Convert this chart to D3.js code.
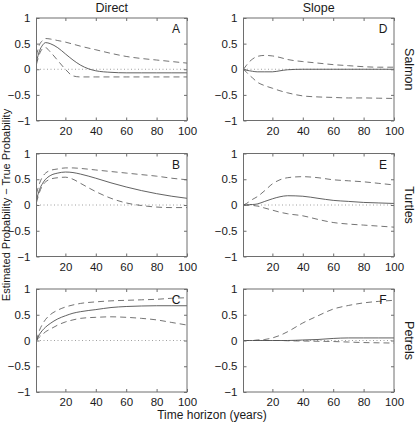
<!DOCTYPE html>
<html><head><meta charset="utf-8">
<script src="https://cdn.jsdelivr.net/npm/d3@7"></script>
<style>
html,body{margin:0;padding:0;background:#fff;}
svg{display:block;font-family:"Liberation Sans",Arial,Helvetica,sans-serif;}
</style></head>
<body>
<svg id="chart" width="419" height="425"></svg>
<script>
// ---- data ----
const horizon = [1,3,5,7,10,15,20,25,30,40,50,60,70,80,90,100];
const xTicks = [20,40,60,80,100];
const yTicks = [-1,-0.5,0,0.5,1];
const yTickLabels = ["\u22121","\u22120.5","0","0.5","1"];
const columnTitles = ["Direct","Slope"];
const rowLabels = ["Salmon","Turtles","Petrels"];
const panelLetters = ["A","D","B","E","C","F"];

// Salmon - Direct (A)
const A_mean  = [0.15,0.36,0.47,0.52,0.5,0.42,0.3,0.18,0.08,-0.03,-0.06,-0.07,-0.07,-0.07,-0.07,-0.07];
const A_upper = [0.27,0.48,0.56,0.6,0.59,0.56,0.53,0.49,0.45,0.38,0.31,0.25,0.21,0.18,0.15,0.12];
const A_lower = [0.1,0.3,0.4,0.42,0.34,0.17,0.0,-0.13,-0.15,-0.15,-0.15,-0.15,-0.15,-0.15,-0.15,-0.15];
// Salmon - Slope (D)
const D_mean  = [0,-0.02,-0.03,-0.04,-0.05,-0.05,-0.05,-0.03,-0.01,0,0,0,0,0,0,0];
const D_upper = [0,0.08,0.15,0.2,0.25,0.27,0.26,0.23,0.19,0.15,0.12,0.09,0.07,0.05,0.04,0.04];
const D_lower = [0,-0.06,-0.12,-0.17,-0.25,-0.32,-0.37,-0.42,-0.46,-0.52,-0.54,-0.55,-0.56,-0.56,-0.565,-0.57];
// Turtles - Direct (B)
const B_mean  = [0.1,0.3,0.42,0.5,0.57,0.62,0.64,0.63,0.6,0.52,0.43,0.35,0.28,0.22,0.17,0.13];
const B_upper = [0.22,0.42,0.55,0.62,0.67,0.7,0.72,0.72,0.71,0.68,0.65,0.62,0.59,0.56,0.52,0.49];
const B_lower = [0.05,0.25,0.38,0.45,0.5,0.53,0.54,0.5,0.42,0.26,0.13,0.04,-0.01,-0.04,-0.05,-0.05];
// Turtles - Slope (E)
const E_mean  = [0,0,0.01,0.01,0.02,0.07,0.12,0.16,0.18,0.17,0.13,0.09,0.07,0.05,0.04,0.03];
const E_upper = [0,0.03,0.07,0.11,0.16,0.28,0.41,0.49,0.53,0.55,0.53,0.49,0.47,0.45,0.42,0.39];
const E_lower = [0,0,-0.01,-0.01,-0.02,-0.06,-0.1,-0.14,-0.17,-0.21,-0.28,-0.34,-0.37,-0.39,-0.41,-0.43];
// Petrels - Direct (C)
const C_mean  = [0,0.12,0.2,0.26,0.33,0.42,0.48,0.53,0.56,0.6,0.64,0.66,0.67,0.675,0.675,0.675];
const C_upper = [0,0.2,0.32,0.41,0.5,0.59,0.65,0.69,0.72,0.75,0.77,0.78,0.79,0.8,0.82,0.83];
const C_lower = [0,0.07,0.12,0.17,0.22,0.3,0.36,0.4,0.43,0.45,0.46,0.45,0.43,0.4,0.35,0.3];
// Petrels - Slope (F)
const F_mean  = [0,0,0,0,0,0,0,0,0,0.01,0.02,0.04,0.05,0.05,0.05,0.05];
const F_upper = [0,0,0,0,0.01,0.02,0.05,0.1,0.17,0.34,0.48,0.61,0.68,0.73,0.76,0.78];
const F_lower = [0,0,0,0,0,0,0,0,-0.005,-0.01,-0.015,-0.02,-0.03,-0.04,-0.045,-0.05];

const panelSeries = [
  [A_mean,A_upper,A_lower],[D_mean,D_upper,D_lower],
  [B_mean,B_upper,B_lower],[E_mean,E_upper,E_lower],
  [C_mean,C_upper,C_lower],[F_mean,F_upper,F_lower]
];

// ---- layout ----
const cols = [{x0:36.5,x1:187},{x0:243.5,x1:394}];
const rows = [{y0:18,y1:120.5},{y0:153.5,y1:256.5},{y0:289,y1:392}];
const frameColor = "#6e6e6e", lineColor = "#505050", textColor = "#1a1a1a";

const svg = d3.select("#chart");

panelSeries.forEach((series, i) => {
  const r = Math.floor(i/2), c = i%2;
  const w = cols[c].x1 - cols[c].x0, h = rows[r].y1 - rows[r].y0;
  const g = svg.append("g").attr("transform",`translate(${cols[c].x0},${rows[r].y0})`);
  const x = d3.scaleLinear().domain([1,100]).range([0,w]);
  const y = d3.scaleLinear().domain([-1,1]).range([h,0]);

  // zero dotted line
  g.append("line").attr("x1",0).attr("x2",w).attr("y1",y(0)).attr("y2",y(0))
    .attr("stroke","#a0a0a0").attr("stroke-width",1).attr("stroke-dasharray","1,2.5");

  const line = d3.line().x((d,k)=>x(horizon[k])).y(d=>y(d)).curve(d3.curveMonotoneX);
  series.forEach((s, k) => {
    g.append("path").attr("d", line(s)).attr("fill","none")
      .attr("stroke", lineColor).attr("stroke-width", k===0?0.9:0.8)
      .attr("stroke-dasharray", k===0?null:"6,4");
  });

  // axes
  const fmtY = v => yTickLabels[yTicks.indexOf(v)];
  const axB = g.append("g").attr("transform",`translate(0,${h})`)
    .call(d3.axisBottom(x).tickValues(xTicks).tickSizeInner(-3).tickSizeOuter(0).tickPadding(6));
  const axL = g.append("g")
    .call(d3.axisLeft(y).tickValues(yTicks).tickFormat(fmtY).tickSizeInner(-3).tickSizeOuter(0).tickPadding(6));
  const axT = g.append("g")
    .call(d3.axisTop(x).tickValues(xTicks).tickSizeInner(-3).tickSizeOuter(0).tickFormat(""));
  const axR = g.append("g").attr("transform",`translate(${w},0)`)
    .call(d3.axisRight(y).tickValues(yTicks).tickSizeInner(-3).tickSizeOuter(0).tickFormat(""));
  [axB,axL,axT,axR].forEach(a => {
    a.select(".domain").remove();
    a.selectAll(".tick line").attr("stroke",frameColor);
    a.selectAll("text").attr("fill",textColor).style("font-size","11.5px")
      .style("font-family","'Liberation Sans',Arial,sans-serif");
  });
  g.append("rect").attr("width",w).attr("height",h).attr("fill","none")
    .attr("stroke",frameColor).attr("stroke-width",1);

  // panel letter
  g.append("text").attr("x",w-11).attr("y",15).attr("text-anchor","middle")
    .attr("fill",textColor).style("font-size","12px").text(panelLetters[i]);

  if (r===0) {
    svg.append("text").attr("x",(cols[c].x0+cols[c].x1)/2).attr("y",12)
      .attr("text-anchor","middle").attr("fill",textColor).style("font-size","12.5px")
      .text(columnTitles[c]);
  }
  if (c===1) {
    const cy = (rows[r].y0+rows[r].y1)/2;
    svg.append("text").attr("transform",`translate(404.5,${cy}) rotate(90)`)
      .attr("text-anchor","middle").attr("fill",textColor).style("font-size","12.5px")
      .text(rowLabels[r]);
  }
});

// axis labels
svg.append("text").attr("transform",`translate(10,${(rows[1].y0+rows[1].y1)/2}) rotate(-90)`)
  .attr("text-anchor","middle").attr("fill",textColor).style("font-size","11px")
  .text("Estimated Probability \u2212 True Probability");
svg.append("text").attr("x",212).attr("y",419).attr("text-anchor","middle")
  .attr("fill",textColor).style("font-size","12px").text("Time horizon (years)");
</script>
</body></html>
